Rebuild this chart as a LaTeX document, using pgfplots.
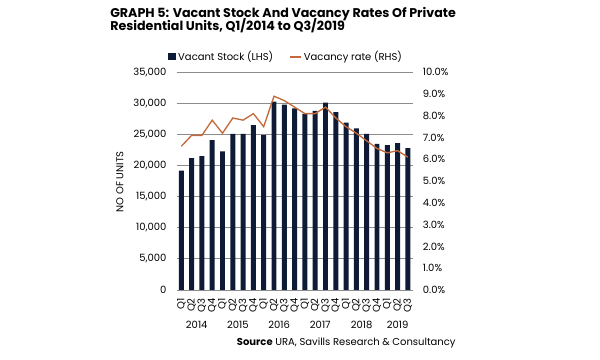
\documentclass[border=0pt]{standalone}
\usepackage{fontspec}
\setmainfont{Poppins}
\usepackage{pgfplots}
\pgfplotsset{compat=1.18}
\definecolor{navy}{HTML}{0E1B36}
\definecolor{rust}{HTML}{C4693A}
\definecolor{gridc}{HTML}{8C8C8C}
\begin{document}
\begin{tikzpicture}
\path[use as bounding box] (0,0) rectangle (450pt,270pt);
\node[anchor=base west, inner sep=0pt, font=\bfseries\fontsize{9.5}{10}\selectfont] at (82.5pt,257pt) {GRAPH 5: Vacant Stock And Vacancy Rates Of Private};
\node[anchor=base west, inner sep=0pt, font=\bfseries\fontsize{9.5}{10}\selectfont] at (82.5pt,247pt) {Residential Units, Q1/2014 to Q3/2019};
\node[anchor=base west, inner sep=0pt, font=\fontsize{7.5}{8}\selectfont] at (177.5pt,10.7pt) {\textbf{Source} URA, Savills Research \& Consultancy};
\begin{axis}[
  at={(132.5pt,52.5pt)}, anchor=south west,
  scale only axis, width=177.2pt, height=163.3pt,
  xmin=-0.45, xmax=22.49, ymin=0, ymax=35000,
  ytick={0,5000,...,35000},
  xtick={0,...,22},
  xticklabels={Q1,Q2,Q3,Q4,Q1,Q2,Q3,Q4,Q1,Q2,Q3,Q4,Q1,Q2,Q3,Q4,Q1,Q2,Q3,Q4,Q1,Q2,Q3},
  xticklabel style={rotate=90, anchor=east, inner sep=0pt},
  xticklabel shift=6pt,
  yticklabel style={inner sep=0pt, anchor=east},
  yticklabel shift=7.5pt,
  ymajorgrids, grid style={gridc, line width=0.6pt},
  axis line style={draw=none},
  major tick length=0pt,
  tick label style={font=\fontsize{7.5}{8}\selectfont},
  /pgf/number format/assume math mode=true,
  scaled y ticks=false,
  ylabel={NO OF UNITS},
  ylabel style={at={(axis description cs:-0.24,0.496)}, anchor=center, font=\fontsize{7.5}{8}\selectfont},
  clip=false,
]
\addplot[ybar, bar width=0.48, fill=navy, draw=none] coordinates {
(0,19200) (1,21200) (2,21500) (3,24100) (4,22300) (5,25100) (6,25100) (7,26500)
(8,24900) (9,30300) (10,29800) (11,29200) (12,28300) (13,28800) (14,30100) (15,28600)
(16,26900) (17,26000) (18,25100) (19,23500) (20,23300) (21,23600) (22,22800)};
\node[font=\fontsize{7.5}{8}\selectfont, anchor=center, yshift=-26.25pt] at (axis cs:1.5,0) {2014};
\node[font=\fontsize{7.5}{8}\selectfont, anchor=center, yshift=-26.25pt] at (axis cs:5.5,0) {2015};
\node[font=\fontsize{7.5}{8}\selectfont, anchor=center, yshift=-26.25pt] at (axis cs:9.5,0) {2016};
\node[font=\fontsize{7.5}{8}\selectfont, anchor=center, yshift=-26.25pt] at (axis cs:13.5,0) {2017};
\node[font=\fontsize{7.5}{8}\selectfont, anchor=center, yshift=-26.25pt] at (axis cs:17.5,0) {2018};
\node[font=\fontsize{7.5}{8}\selectfont, anchor=center, yshift=-26.25pt] at (axis cs:21,0) {2019};
\end{axis}
\begin{axis}[
  at={(132.5pt,52.5pt)}, anchor=south west,
  scale only axis, width=177.2pt, height=163.3pt,
  xmin=-0.45, xmax=22.49, ymin=0, ymax=10,
  ytick={0,1,...,10},
  xtick=\empty,
  axis y line*=right,
  axis x line=none,
  axis line style={draw=none},
  major tick length=0pt,
  yticklabel style={inner sep=0pt, anchor=west},
  yticklabel shift=7.3pt,
  yticklabel={\pgfmathprintnumber[fixed,fixed zerofill,precision=1]{\tick}\%},
  tick label style={font=\fontsize{7.5}{8}\selectfont},
  /pgf/number format/assume math mode=true,
  legend style={at={(0.465,1.07)}, anchor=center, draw=none, fill=none,
    font=\fontsize{7.5}{8}\selectfont, legend columns=2,
    /tikz/every even column/.append style={column sep=10pt}},
  clip=false,
]
\addlegendimage{legend image code/.code={\fill[navy] (0pt,-2pt) rectangle (5pt,2.5pt);}}
\addlegendentry{Vacant Stock (LHS)}
\addplot[rust, line width=1pt, mark=none, legend image code/.code={\draw[rust,line width=1pt] (0pt,0pt) -- (8pt,0pt);}] coordinates {
(0,6.6) (1,7.1) (2,7.1) (3,7.8) (4,7.2) (5,7.9) (6,7.8) (7,8.1)
(8,7.5) (9,8.9) (10,8.7) (11,8.4) (12,8.1) (13,8.1) (14,8.4) (15,7.9)
(16,7.5) (17,7.2) (18,6.85) (19,6.5) (20,6.3) (21,6.4) (22,6.1)};
\addlegendentry{Vacancy rate (RHS)}
\end{axis}
\end{tikzpicture}
\end{document}
